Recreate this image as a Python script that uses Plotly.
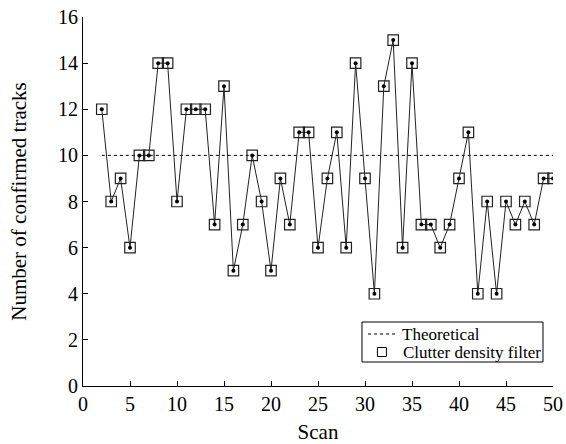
import plotly.graph_objects as go

scan = list(range(2, 51))
tracks = [12, 8, 9, 6, 10, 10, 14, 14, 8, 12, 12, 12, 7, 13, 5, 7, 10, 8, 5, 9,
          7, 11, 11, 6, 9, 11, 6, 14, 9, 4, 13, 15, 6, 14, 7, 7, 6, 7, 9, 11,
          4, 8, 4, 8, 7, 8, 7, 9, 9]
theory_x = [2, 50]
theory_y = [10, 10]
x_ticks = [0, 5, 10, 15, 20, 25, 30, 35, 40, 45, 50]
y_ticks = [0, 2, 4, 6, 8, 10, 12, 14, 16]
legend_labels = ["Theoretical", "Clutter density filter"]

FONT = "Liberation Serif"
fig = go.Figure()
fig.add_trace(go.Scatter(x=theory_x, y=theory_y, mode="lines", name=legend_labels[0],
                         showlegend=False,
                         line=dict(color="black", width=1, dash="3px,3px")))
fig.add_trace(go.Scatter(x=scan, y=tracks, mode="lines+markers", showlegend=False,
                         line=dict(color="#222", width=1),
                         marker=dict(symbol="circle", size=4, color="black")))
fig.add_trace(go.Scatter(x=scan, y=tracks, mode="markers", name=legend_labels[1],
                         showlegend=False,
                         marker=dict(symbol="square-open", size=10.5, color="#222",
                                     line=dict(width=1.2, color="#222"))))

axis_common = dict(showline=True, linecolor="black", linewidth=1, ticks="inside",
                   ticklen=5, tickcolor="black", showgrid=False, zeroline=False,
                   automargin=False,
                   tickfont=dict(family=FONT, size=20, color="black"))

# manual legend box (paper coordinates)
shapes = [
    dict(type="rect", xref="paper", yref="paper", x0=0.5936, x1=0.9787, y0=0.065, y1=0.1734,
         line=dict(color="black", width=1), fillcolor="white", layer="above"),
    dict(type="line", xref="paper", yref="paper", x0=0.6064, x1=0.668, y0=0.1409, y1=0.1409,
         line=dict(color="black", width=1, dash="3px,3px"), layer="above"),
    dict(type="rect", xref="paper", yref="paper", x0=0.636 - 0.0096, x1=0.636 + 0.0096,
         y0=0.0921 - 0.0122, y1=0.0921 + 0.0122,
         line=dict(color="black", width=1), layer="above"),
]
annotations = [
    dict(text=legend_labels[0], xref="paper", yref="paper", x=0.6745, y=0.1409,
         xanchor="left", yanchor="middle", showarrow=False,
         font=dict(family=FONT, size=17, color="black")),
    dict(text=legend_labels[1], xref="paper", yref="paper", x=0.677, y=0.0921,
         xanchor="left", yanchor="middle", showarrow=False,
         font=dict(family=FONT, size=17, color="black")),
]

fig.update_layout(
    width=566, height=444,
    margin=dict(l=83, r=13, t=17, b=58),
    paper_bgcolor="white", plot_bgcolor="white",
    font=dict(family=FONT, color="black"),
    xaxis=dict(range=[0, 50], tickvals=x_ticks,
               title=dict(text="Scan", font=dict(size=21), standoff=12),
               **axis_common),
    yaxis=dict(range=[0, 16], tickvals=y_ticks,
               title=dict(text="Number of confirmed tracks", font=dict(size=21), standoff=25),
               **axis_common),
    shapes=shapes,
    annotations=annotations,
    showlegend=False,
)
fig.write_html("out.html", config={"displayModeBar": False},
               post_script="document.body.style.margin='0';")
